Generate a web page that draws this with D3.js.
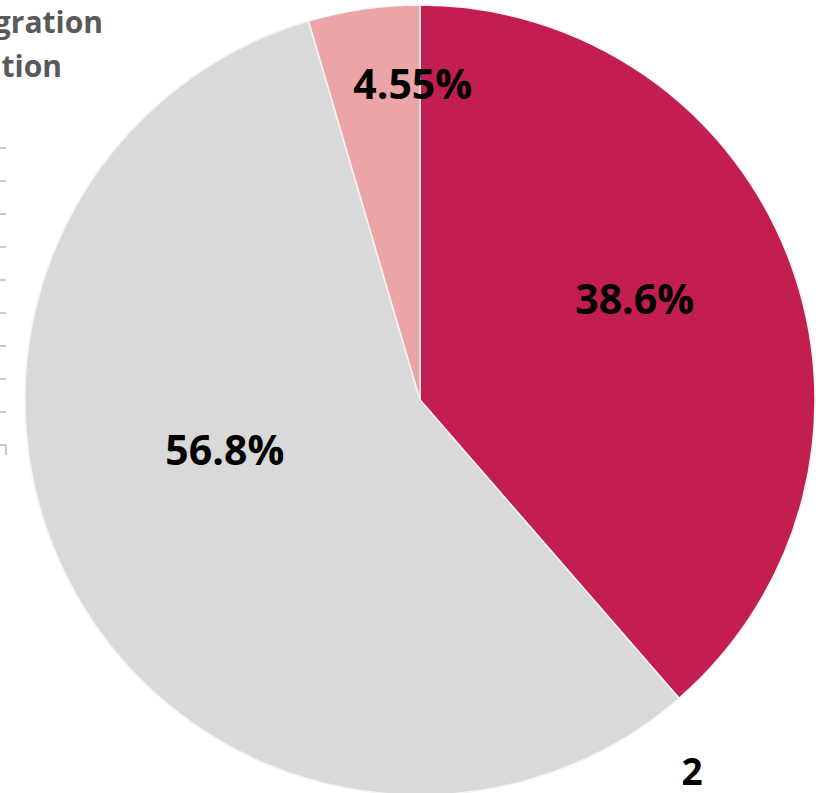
<!DOCTYPE html>
<html>
<head>
<meta charset="utf-8">
<script src="https://cdn.jsdelivr.net/npm/d3@7"></script>
<style>
  body { margin: 0; background: #fff; overflow: hidden; }
  svg { display: block; }
</style>
</head>
<body>
<div class="chart"></div>
<script>
// slice data, clockwise from 12 o'clock
var categories = ["Series 1", "Series 2", "Series 3"];
var values = [38.6, 56.8, 4.55];
var valueLabels = ["38.6%", "56.8%", "4.55%"];
var colors = ["#c21f50", "#d9d9d9", "#eba5a6"];

// legend fragments cut off at the left edge
var legendTexts = ["Emigration", "Population"];
var tickCount = 10;

var svgWidth = 826;
var svgHeight = 793;

var svg = d3.select(".chart")
  .append("svg")
  .attr("width", svgWidth)
  .attr("height", svgHeight);

var cx = 420, cy = 400, radius = 395;

var pieGroup = svg.append("g")
  .attr("transform", `translate(${cx}, ${cy})`);

var pie = d3.pie().sort(null).value(d => d.value);
var arc = d3.arc().innerRadius(0).outerRadius(radius);

var data = categories.map((c, i) => ({ name: c, value: values[i], label: valueLabels[i], color: colors[i] }));
var arcs = pie(data);

pieGroup.selectAll("path")
  .data(arcs)
  .enter()
  .append("path")
  .attr("d", arc)
  .attr("fill", d => d.data.color)
  .attr("stroke", "#f4f4f4")
  .attr("stroke-width", 1.5);

// label placement (radius fraction and angle shift), tuned to the picture
var labelPlace = [
  { r: 0.6, shift: -0.08 },
  { r: 0.51, shift: 0.25 },
  { r: 0.8, shift: 0.12 }
];

pieGroup.selectAll("text.value")
  .data(arcs)
  .enter()
  .append("text")
  .attr("class", "value")
  .attr("x", (d, i) => {
    var a = (d.startAngle + d.endAngle) / 2 + labelPlace[i].shift;
    return Math.sin(a) * radius * labelPlace[i].r;
  })
  .attr("y", (d, i) => {
    var a = (d.startAngle + d.endAngle) / 2 + labelPlace[i].shift;
    return -Math.cos(a) * radius * labelPlace[i].r;
  })
  .attr("dy", "0.36em")
  .attr("text-anchor", "middle")
  .style("font-family", "'Open Sans', sans-serif")
  .style("font-weight", "bold")
  .style("font-size", "41px")
  .style("fill", "#000")
  .text(d => d.data.label);

// partial legend at top-left
svg.selectAll("text.legend")
  .data(legendTexts)
  .enter()
  .append("text")
  .attr("class", "legend")
  .attr("x", (d, i) => i === 0 ? 103 : 62)
  .attr("y", (d, i) => 33 + i * 44)
  .attr("text-anchor", "end")
  .style("font-family", "'Open Sans', sans-serif")
  .style("font-weight", "bold")
  .style("font-size", "30px")
  .style("fill", "#595959")
  .text(d => d);

// axis tick fragments at left edge
var tickScale = d3.scaleLinear().domain([0, tickCount - 1]).range([148, 445]);
var ticks = d3.range(tickCount);
svg.selectAll("line.tick")
  .data(ticks)
  .enter()
  .append("line")
  .attr("x1", -2)
  .attr("x2", 6)
  .attr("y1", d => tickScale(d))
  .attr("y2", d => tickScale(d))
  .attr("stroke", "#a6a6a6")
  .attr("stroke-width", 1.2);

svg.append("line")
  .attr("x1", 6)
  .attr("x2", 6)
  .attr("y1", tickScale(tickCount - 1))
  .attr("y2", tickScale(tickCount - 1) + 10)
  .attr("stroke", "#a6a6a6")
  .attr("stroke-width", 1.2);

// stray number at bottom right
svg.append("text")
  .attr("x", 692)
  .attr("y", 785)
  .attr("text-anchor", "middle")
  .style("font-family", "'Open Sans', sans-serif")
  .style("font-weight", "bold")
  .style("font-size", "37px")
  .style("fill", "#000")
  .text("2");
</script>
</body>
</html>
